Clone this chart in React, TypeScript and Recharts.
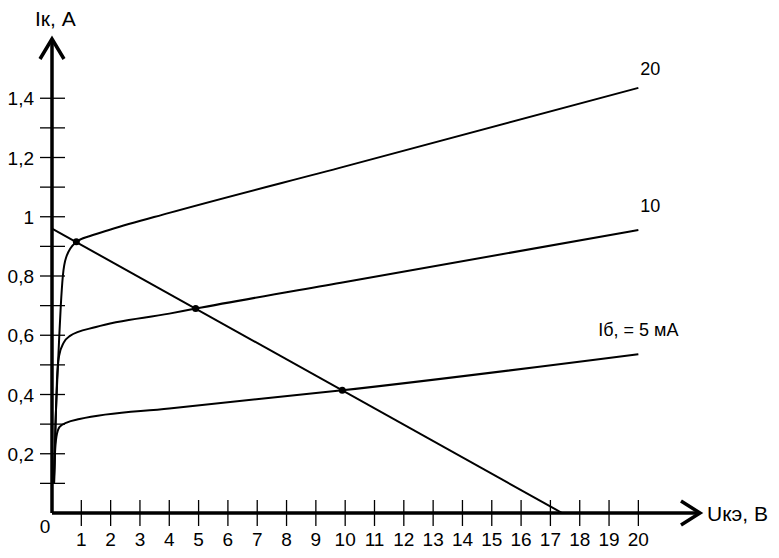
import React from "react";
import { LineChart, Line, XAxis, YAxis, ReferenceDot } from "recharts";

// output characteristics Iк(Uкэ) for three base currents, plus the load line
const u5 = [0.06, 0.1, 0.15, 0.26, 0.5, 0.94, 4, 9.9, 20];
const i5 = [0.1, 0.2, 0.257, 0.291, 0.305, 0.317, 0.353, 0.414, 0.536];

const u10 = [0.07, 0.12, 0.17, 0.24, 0.4, 0.6, 1.5, 4, 4.9, 10, 20];
const i10 = [0.1, 0.3, 0.45, 0.53, 0.575, 0.597, 0.628, 0.673, 0.69, 0.78, 0.955];

const u20 = [0.07, 0.12, 0.18, 0.24, 0.3, 0.37, 0.49, 0.83, 1.3, 2, 4, 10, 20];
const i20 = [0.1, 0.3, 0.45, 0.58, 0.7, 0.8, 0.865, 0.915, 0.935, 0.957, 1.013, 1.17, 1.435];

const uLoad = [0, 17.4];
const iLoad = [0.96, 0];

// operating points where the load line crosses the curves
const uQ = [0.83, 4.9, 9.9];
const iQ = [0.916, 0.69, 0.414];

const curveNames = ["Iб, = 5 мА", "10", "20"];

const xTicks = [0, 1, 2, 3, 4, 5, 6, 7, 8, 9, 10, 11, 12, 13, 14, 15, 16, 17, 18, 19, 20];
const yTicks = [0.1, 0.2, 0.3, 0.4, 0.5, 0.6, 0.7, 0.8, 0.9, 1, 1.1, 1.2, 1.3, 1.4];
const yTickLabels = ["", "0,2", "", "0,4", "", "0,6", "", "0,8", "", "1", "", "1,2", "", "1,4"];

const FONT = '"Liberation Sans", Arial, sans-serif';

const zip = (u: number[], i: number[]) => u.map((v, k) => ({ u: v, i: i[k] }));
const curves = [zip(u5, i5), zip(u10, i10), zip(u20, i20)];
const loadLine = zip(uLoad, iLoad);

function XTick({ x, y, payload }: any) {
  if (payload.value === 0) {
    return (
      <text x={x - 7} y={y + 20} textAnchor="middle" fontSize={19} fontFamily={FONT} fill="#000">
        0
      </text>
    );
  }
  return (
    <g>
      <line x1={x} y1={y - 13} x2={x} y2={y + 13} stroke="#000" strokeWidth={1.3} />
      <text x={x} y={y + 33} textAnchor="middle" fontSize={19} fontFamily={FONT} fill="#000">
        {payload.value}
      </text>
    </g>
  );
}

function YTick({ x, y, index }: any) {
  return (
    <g>
      <line x1={x - 12} y1={y} x2={x + 13} y2={y} stroke="#000" strokeWidth={1.3} />
      <text x={x - 18} y={y + 7} textAnchor="end" fontSize={19} fontFamily={FONT} fill="#000">
        {yTickLabels[index]}
      </text>
    </g>
  );
}

const XArrow = ({ cx, cy }: any) => (
  <g>
    <polyline
      points={`${cx - 16},${cy - 12} ${cx + 3},${cy} ${cx - 16},${cy + 12}`}
      fill="none"
      stroke="#000"
      strokeWidth={3.5}
    />
    <text x={cx + 10} y={cy + 8} fontSize={21} fontFamily={FONT} fill="#000">
      Uкэ, В
    </text>
  </g>
);

const YArrow = ({ cx, cy }: any) => (
  <g>
    <polyline
      points={`${cx - 12},${cy + 20} ${cx},${cy} ${cx + 12},${cy + 20}`}
      fill="none"
      stroke="#000"
      strokeWidth={3.5}
    />
    <text x={cx - 17} y={cy - 13} fontSize={21} fontFamily={FONT} fill="#000">
      Iк, А
    </text>
  </g>
);

const labelOffsets = [
  { dx: 0, dy: -18 },
  { dx: 12, dy: -18 },
  { dx: 12, dy: -13 },
];

export default function App() {
  return (
    <div style={{ position: "absolute", left: 0, top: 0, width: 779, height: 558, background: "#fff" }}>
      <LineChart width={779} height={558} margin={{ top: 39, right: 82, bottom: 44, left: 51 }}>
        <XAxis
          type="number"
          dataKey="u"
          domain={[0, 22]}
          ticks={xTicks}
          interval={0}
          height={1}
          tickSize={0}
          tickMargin={0}
          tickLine={false}
          tick={<XTick />}
          axisLine={{ stroke: "#000", strokeWidth: 3.5 }}
          allowDataOverflow
        />
        <YAxis
          type="number"
          domain={[0, 1.6]}
          ticks={yTicks}
          interval={0}
          width={1}
          tickSize={0}
          tickMargin={0}
          tickLine={false}
          tick={<YTick />}
          axisLine={{ stroke: "#000", strokeWidth: 3.5 }}
          allowDataOverflow
        />
        {curves.map((data, k) => (
          <Line
            key={k}
            data={data}
            dataKey="i"
            type="monotone"
            stroke="#000"
            strokeWidth={2}
            dot={false}
            activeDot={false}
            isAnimationActive={false}
          />
        ))}
        <Line
          data={loadLine}
          dataKey="i"
          type="linear"
          stroke="#000"
          strokeWidth={2}
          dot={false}
          activeDot={false}
          isAnimationActive={false}
        />
        {uQ.map((u, k) => (
          <ReferenceDot key={"q" + k} x={u} y={iQ[k]} r={3.5} fill="#000" stroke="none" ifOverflow="visible" />
        ))}
        {curves.map((data, k) => {
          const end = data[data.length - 1];
          return (
            <ReferenceDot
              key={"n" + k}
              x={end.u}
              y={end.i}
              ifOverflow="visible"
              shape={({ cx, cy }: any) => (
                <text
                  x={cx + labelOffsets[k].dx}
                  y={cy + labelOffsets[k].dy}
                  textAnchor="middle"
                  fontSize={18}
                  fontFamily={FONT}
                  fill="#000"
                >
                  {curveNames[k]}
                </text>
              )}
            />
          );
        })}
        <ReferenceDot x={22} y={0} ifOverflow="visible" shape={<XArrow />} />
        <ReferenceDot x={0} y={1.6} ifOverflow="visible" shape={<YArrow />} />
      </LineChart>
    </div>
  );
}
